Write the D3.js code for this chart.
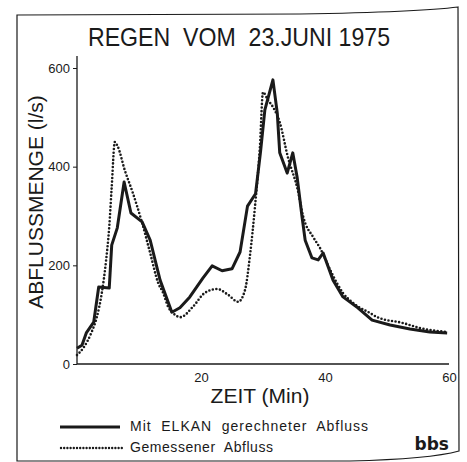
<!DOCTYPE html>
<html>
<head>
<meta charset="utf-8">
<script src="https://cdn.jsdelivr.net/npm/d3@7"></script>
<style>
body { margin:0; background:#fff; }
svg { display:block; }
text { font-family:"Liberation Sans", Arial, sans-serif; fill:#1a1a1a; }
</style>
</head>
<body>
<svg></svg>
<script>
// Berechneter Abfluss (ELKAN) - Zeit in Min, Abfluss in l/s
var elkanTime  = [0,0.8,1.5,2.7,3.5,5.2,5.6,6.5,7.6,8.7,10.5,11.8,13.4,15.3,16.6,18.2,20.3,21.8,23.4,25,26.3,27.5,28.8,29.6,30.3,31.6,32.3,32.7,33.9,34.8,35.5,36.3,36.8,37.9,38.9,39.7,41.3,42.9,45.3,47.6,50.5,53.7,56.9,59.7];
var elkanValue = [32,38,63,85,156,154,241,276,369,306,288,251,170,105,114,136,174,199,189,193,227,320,345,430,515,576,509,428,387,428,379,298,251,215,211,225,170,136,114,89,79,71,65,63];

// Gemessener Abfluss
var messTime  = [0,1.1,2.3,3.2,4.0,4.7,5.2,5.6,6.1,6.6,7.7,9.0,10.5,11.8,13.1,13.9,14.7,15.5,16.7,18.7,20.6,22.6,24.4,26.0,27.1,27.9,28.7,29.5,30.0,30.8,31.6,32.7,34.0,35.6,36.5,38.1,39.2,41.1,42.9,44.5,47.3,48.4,52.6,55.3,59.7];
var messValue = [18,34,63,95,144,211,278,359,450,440,393,347,286,225,164,144,116,103,95,116,144,152,140,126,150,220,318,440,551,535,521,490,420,353,298,257,235,184,144,124,103,95,83,73,65];

var yTicks = [0,200,400,600];
var xTicks = [20,40,60];

var svg = d3.select("svg").attr("width",467).attr("height",462);
var ink = "#1a1a1a";

var xScale = d3.scaleLinear().domain([0,60]).range([77,449]);
var yScale = d3.scaleLinear().domain([0,600]).range([364,68]);

// rahmen
svg.append("path")
    .attr("d","M17,461 L17,15 L300,14 Q420,12 458,7 L459,451 Q430,459 350,461 Z")
    .attr("fill","none").attr("stroke",ink).attr("stroke-width",1.2);

// titel
svg.append("text")
    .attr("x",88).attr("y",46)
    .attr("font-size",25)
    .attr("textLength",302)
    .attr("lengthAdjust","spacingAndGlyphs")
    .attr("xml:space","preserve")
    .text("REGEN  VOM  23.JUNI 1975");

// achsen
var yAxis = d3.axisLeft(yScale).tickValues(yTicks).tickSize(4).tickPadding(3);
var xAxis = d3.axisBottom(xScale).tickValues(xTicks).tickSize(0).tickPadding(9);

var gy = svg.append("g").attr("transform","translate(77,0)").call(yAxis);
gy.select(".domain").attr("d","M-0,56V364");
var gx = svg.append("g").attr("transform","translate(0,364)").call(xAxis);
gx.select(".domain").attr("d","M77,0H449");

svg.selectAll(".domain").attr("stroke",ink).attr("stroke-width",1.3);
svg.selectAll(".tick line").attr("stroke",ink);
svg.selectAll(".tick text").attr("font-size",13).attr("fill",ink)
    .style("font-family","'Liberation Sans', Arial, sans-serif");

svg.append("text")
    .attr("transform","translate(43,202) rotate(-90)")
    .attr("text-anchor","middle")
    .attr("font-size",21)
    .text("ABFLUSSMENGE (l/s)");

svg.append("text")
    .attr("x",260).attr("y",403)
    .attr("text-anchor","middle")
    .attr("font-size",21)
    .text("ZEIT (Min)");

// kurven
var elkan = elkanTime.map(function(t,i){ return [t, elkanValue[i]]; });
var mess = messTime.map(function(t,i){ return [t, messValue[i]]; });

var line = d3.line()
    .x(function(d){ return xScale(d[0]); })
    .y(function(d){ return yScale(d[1]); });

svg.append("path")
    .attr("d", line.curve(d3.curveMonotoneX)(mess))
    .attr("fill","none").attr("stroke",ink)
    .attr("stroke-width",2.6).attr("stroke-linecap","round")
    .attr("stroke-dasharray","0,3.6");

svg.append("path")
    .attr("d", line.curve(d3.curveLinear)(elkan))
    .attr("fill","none").attr("stroke",ink)
    .attr("stroke-width",3).attr("stroke-linejoin","round");

// legende
svg.append("line")
    .attr("x1",60).attr("x2",120).attr("y1",427).attr("y2",427)
    .attr("stroke",ink).attr("stroke-width",3);
svg.append("line")
    .attr("x1",61).attr("x2",122).attr("y1",448).attr("y2",448)
    .attr("stroke",ink).attr("stroke-width",2.4)
    .attr("stroke-linecap","round").attr("stroke-dasharray","0,3.2");

svg.append("text")
    .attr("x",130).attr("y",431)
    .attr("font-size",14)
    .attr("textLength",238)
    .attr("lengthAdjust","spacing")
    .attr("xml:space","preserve")
    .text("Mit  ELKAN  gerechneter  Abfluss");
svg.append("text")
    .attr("x",130).attr("y",452)
    .attr("font-size",14)
    .attr("textLength",143)
    .attr("lengthAdjust","spacing")
    .attr("xml:space","preserve")
    .text("Gemessener  Abfluss");

svg.append("text")
    .attr("x",449).attr("y",450)
    .attr("text-anchor","end")
    .attr("font-size",17)
    .attr("font-weight",900)
    .style("font-family","'DejaVu Sans', sans-serif")
    .text("bbs");
</script>
</body>
</html>
